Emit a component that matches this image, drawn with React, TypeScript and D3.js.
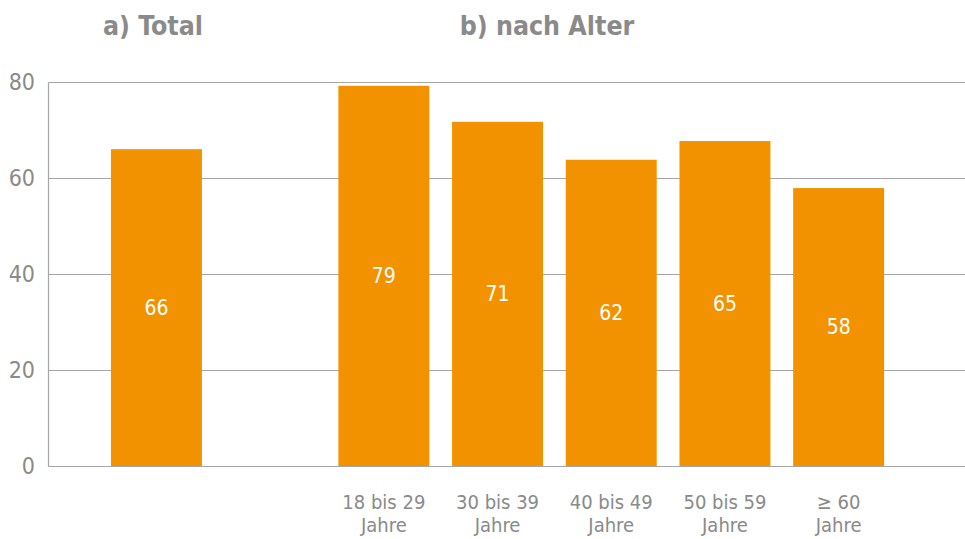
import React, { useEffect, useRef } from "react";
import * as d3 from "d3";

// Categories: "total" + spacer + age groups
const categories = ["Total", "", "18 bis 29 Jahre", "30 bis 39 Jahre", "40 bis 49 Jahre", "50 bis 59 Jahre", "≥ 60 Jahre"];
const barKeys = ["Total", "18 bis 29 Jahre", "30 bis 39 Jahre", "40 bis 49 Jahre", "50 bis 59 Jahre", "≥ 60 Jahre"];
// Bar heights as drawn in the picture
const barValues = [66, 79.2, 71.7, 63.8, 67.7, 57.9];
// Numbers printed in the bars
const barLabels = ["66", "79", "71", "62", "65", "58"];
// Axis labels below the age bars (two lines each)
const tickLines = [
  ["18 bis 29", "Jahre"],
  ["30 bis 39", "Jahre"],
  ["40 bis 49", "Jahre"],
  ["50 bis 59", "Jahre"],
  ["≥ 60", "Jahre"],
];
const yTicks = [0, 20, 40, 60, 80];
const titles = ["a) Total", "b) nach Alter"];

const orange = "#f39200";
const grey = "#8a8a8a";
const gridGrey = "#a6a6a6";
const font = "'Liberation Sans Narrow', 'DejaVu Sans Condensed', 'Open Sans', sans-serif";

export default function App() {
  const ref = useRef<SVGSVGElement>(null);

  useEffect(() => {
    const svg = d3.select(ref.current);
    svg.selectAll("*").remove();

    const width = 965,
      height = 539;
    const left = 48.5,
      top = 82,
      bottom = 466;

    const x = d3
      .scaleBand()
      .domain(categories)
      .range([99.6, 895.5])
      .paddingInner(0.2)
      .paddingOuter(0.1);

    const y = d3.scaleLinear().domain([0, 80]).range([bottom, top]);

    svg.attr("width", width).attr("height", height);

    // Gridlines
    svg
      .append("g")
      .selectAll("line")
      .data(yTicks)
      .enter()
      .append("line")
      .attr("x1", left)
      .attr("x2", width)
      .attr("y1", (d) => Math.round(y(d)) + 0.5)
      .attr("y2", (d) => Math.round(y(d)) + 0.5)
      .attr("stroke", gridGrey)
      .attr("stroke-width", 1.2);

    // Y axis line
    svg
      .append("line")
      .attr("x1", left)
      .attr("x2", left)
      .attr("y1", Math.round(y(80)) + 0.5)
      .attr("y2", Math.round(y(0)) + 0.5)
      .attr("stroke", gridGrey)
      .attr("stroke-width", 1.2);

    // Y tick labels
    svg
      .append("g")
      .selectAll("text")
      .data(yTicks)
      .enter()
      .append("text")
      .attr("x", 35)
      .attr("y", (d) => y(d) + 8)
      .attr("text-anchor", "end")
      .attr("fill", grey)
      .style("font-family", font)
      .style("font-size", "23px")
      .text((d) => d);

    // Bars
    const data = barKeys.map((k, i) => ({ key: k, value: barValues[i], label: barLabels[i] }));

    svg
      .append("g")
      .selectAll("rect")
      .data(data)
      .enter()
      .append("rect")
      .attr("x", (d) => x(d.key)!)
      .attr("y", (d) => y(d.value))
      .attr("width", x.bandwidth())
      .attr("height", (d) => y(0) - y(d.value))
      .attr("fill", orange);

    // Value labels inside the bars
    svg
      .append("g")
      .selectAll("text")
      .data(data)
      .enter()
      .append("text")
      .attr("x", (d) => x(d.key)! + x.bandwidth() / 2)
      .attr("y", (d) => (y(d.value) + y(0)) / 2 + 7)
      .attr("text-anchor", "middle")
      .attr("fill", "#ffffff")
      .style("font-family", font)
      .style("font-size", "21px")
      .text((d) => d.label);

    // Category labels below the age bars
    const tickGroups = svg
      .append("g")
      .selectAll("text")
      .data(barKeys.slice(1))
      .enter()
      .append("text")
      .attr("text-anchor", "middle")
      .attr("fill", grey)
      .style("font-family", font)
      .style("font-size", "20px");

    tickGroups
      .selectAll("tspan")
      .data((d, i) => tickLines[i].map((t) => ({ t, key: d })))
      .enter()
      .append("tspan")
      .attr("x", (d) => x(d.key)! + x.bandwidth() / 2)
      .attr("y", (d, j) => 509 + j * 23)
      .text((d) => d.t);

    // Panel titles
    svg
      .append("g")
      .selectAll("text")
      .data(titles)
      .enter()
      .append("text")
      .attr("x", (d, i) => (i === 0 ? 153 : 547))
      .attr("y", 35)
      .attr("text-anchor", "middle")
      .attr("fill", grey)
      .style("font-family", font)
      .style("font-weight", "bold")
      .style("font-size", "26.5px")
      .text((d) => d);
  }, []);

  return <svg ref={ref} style={{ position: "absolute", left: 0, top: 0 }}></svg>;
}
